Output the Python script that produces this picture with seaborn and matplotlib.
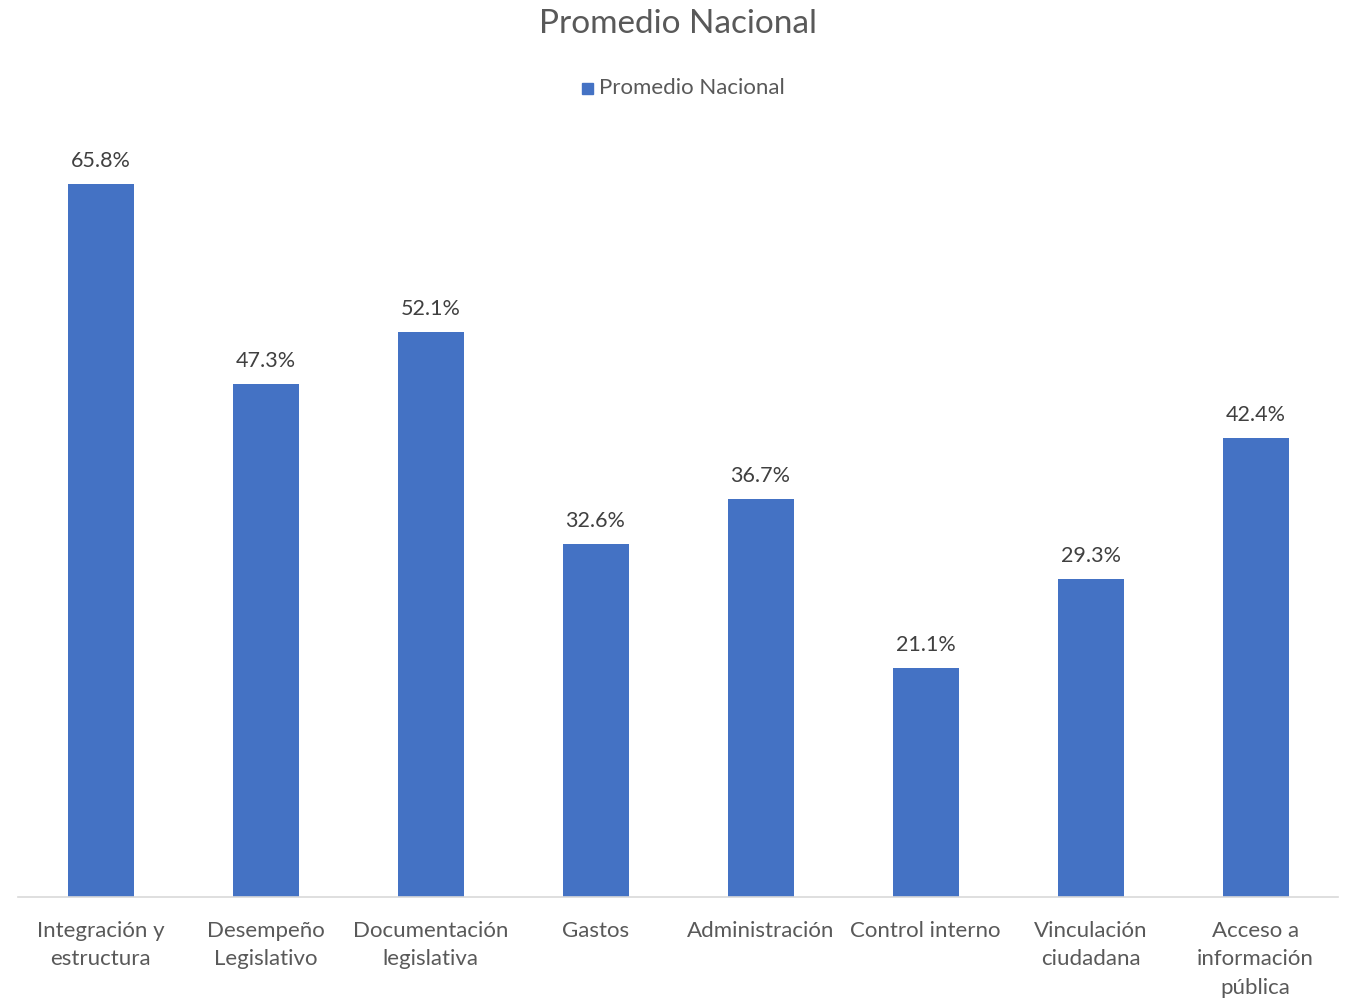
import matplotlib
matplotlib.use("Agg")
import matplotlib.pyplot as plt
import pandas as pd
import seaborn as sns

categorias = ["Integración y\nestructura", "Desempeño\nLegislativo", "Documentación\nlegislativa",
              "Gastos", "Administración", "Control interno", "Vinculación\nciudadana",
              "Acceso a\ninformación\npública"]
valores = [65.8, 47.3, 52.1, 32.6, 36.7, 21.1, 29.3, 42.4]
serie = "Promedio Nacional"

sns.set_style("white")
plt.rcParams['font.family'] = ['Lato', 'DejaVu Sans']

df = pd.DataFrame({"categoria": categorias, "valor": valores, "serie": serie})

fig = plt.figure(figsize=(13.45, 10.02), dpi=100)
ax = fig.add_axes([0.0134, 0.1048, 0.9814, 0.757])
sns.barplot(data=df, x="categoria", y="valor", hue="serie", palette=["#4472C4"],
            saturation=1, width=0.4, linewidth=0, ax=ax, legend=False)

for i, v in enumerate(valores):
    ax.text(i, v + 1.2, f"{v:.1f}%", ha="center", va="bottom", fontsize=15.5, color="#404040")

ax.set_xlim(-0.5, len(categorias) - 0.5)
ax.set_ylim(0, 70)
ax.set_xlabel("")
ax.set_ylabel("")
ax.set_yticks([])
for s in ["top", "left", "right"]:
    ax.spines[s].set_visible(False)
ax.spines["bottom"].set_color("#D9D9D9")
ax.spines["bottom"].set_linewidth(1.2)
ax.tick_params(axis="x", length=0, pad=17, labelsize=16, labelcolor="#595959")
for lbl in ax.get_xticklabels():
    lbl.set_linespacing(1.55)

fig.text(0.504, 0.976, "Promedio Nacional", ha="center", va="center", fontsize=24, color="#595959")
fig.patches.append(plt.Rectangle((0.4325, 0.906), 0.0085, 0.0115, transform=fig.transFigure,
                                 color="#4472C4"))
fig.text(0.4455, 0.912, serie, ha="left", va="center", fontsize=16, color="#595959")

fig.savefig("out.png", dpi=100)
